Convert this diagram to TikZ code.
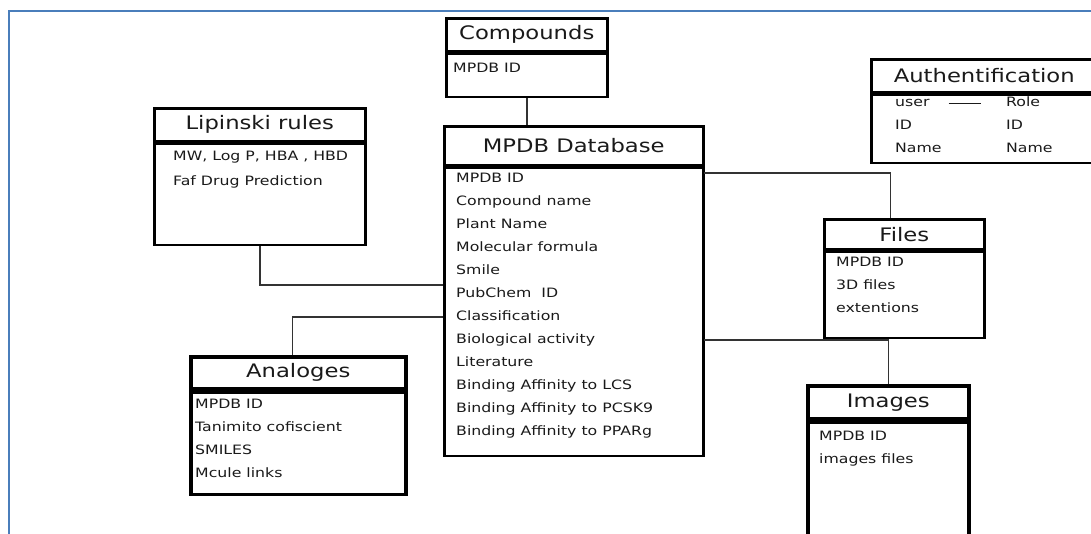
\documentclass[tikz,border=0pt]{standalone}
\usepackage{fontspec}
\newfontfamily\dbfont[FakeStretch=1.22]{DejaVu Sans}
\usepackage{tikz}
\usetikzlibrary{positioning}
\definecolor{framebl}{HTML}{4A7EBB}
\definecolor{inkgray}{HTML}{1A1A1A}
\definecolor{linkgray}{HTML}{333333}
\tikzset{
  tblhead/.style={draw=black, line width=2.5pt, fill=white, inner sep=0pt,
                  anchor=north west, text=inkgray,
                  font=\dbfont\fontsize{18.6}{21}\selectfont},
  tblbody/.style={draw=black, line width=2.5pt, fill=white, inner sep=0pt},
  rowtxt/.style={inner sep=0pt, anchor=base west, text=inkgray,
                 font=\dbfont\fontsize{12.9}{15}\selectfont},
  link/.style={draw=linkgray, line width=1.5pt},
  frameln/.style={draw=framebl, line width=1.6pt},
}

\begin{document}
\begin{tikzpicture}[x=1pt, y=-1pt]
  \clip (0,0) rectangle (1091,533);
  \fill[white] (0,0) rectangle (1091,533);
  \draw[frameln] (9,545) |- (1100,11);

  % compounds
  \node[tblhead, minimum width=161pt, minimum height=33pt] (cmpT) at (445,17) {Compounds};
  \node[tblbody, below=0pt of cmpT, minimum width=161pt, minimum height=43pt] (cmpB) {};
  \node[rowtxt] (cmp0) at (453,72.7) {MPDB ID};

  % lipinski rules
  \node[tblhead, minimum width=211pt, minimum height=33pt] (lipT) at (153,107) {Lipinski rules};
  \node[tblbody, below=0pt of lipT, minimum width=211pt, minimum height=101pt] (lipB) {};
  \foreach \txt [count=\i from 0] in {{MW, Log P, HBA , HBD}, Faf Drug Prediction}
    \node[rowtxt] (lip\i) at (173,{160+25*\i}) {\txt};

  % main table
  \node[tblhead, minimum width=259pt, minimum height=39pt] (dbT) at (443,125) {MPDB Database};
  \node[tblbody, below=0pt of dbT, minimum width=259pt, minimum height=288pt] (dbB) {};
  \foreach \txt [count=\i from 0] in {MPDB ID, Compound name, Plant Name,
      Molecular formula, Smile, PubChem\ \ ID, Classification, Biological activity,
      Literature, Binding Affinity to LCS, Binding Affinity to PCSK9,
      Binding Affinity to PPARg}
    \node[rowtxt] (db\i) at (456,{182.7+23*\i}) {\txt};

  % authentification
  \node[tblhead, minimum width=226pt, minimum height=33pt] (autT) at (870,58) {Authentification};
  \node[tblbody, below=0pt of autT, minimum width=226pt, minimum height=68pt] (autB) {};
  \foreach \txt [count=\i from 0] in {user, ID, Name}
    \node[rowtxt] (au\i) at (895,{106.7+23*\i}) {\txt};
  \foreach \txt [count=\i from 0] in {Role, ID, Name}
    \node[rowtxt] (ar\i) at (1006,{106.7+23*\i}) {\txt};
  \draw[draw=inkgray, line width=1.2pt, shorten <=19pt] (au0.east) -- ([xshift=-25pt]au0.east -| ar0.west);

  % files
  \node[tblhead, minimum width=160pt, minimum height=30pt] (filT) at (823,218) {Files};
  \node[tblbody, below=0pt of filT, minimum width=160pt, minimum height=86pt] (filB) {};
  \foreach \txt [count=\i from 0] in {MPDB ID, 3D files, extentions}
    \node[rowtxt] (fil\i) at (836,{266.7+23*\i}) {\txt};

  % analoges
  \node[tblhead, line width=3.5pt, minimum width=215pt, minimum height=32pt] (anaT) at (189,355) {Analoges};
  \node[tblbody, line width=3.5pt, below=0pt of anaT, minimum width=215pt, minimum height=102pt] (anaB) {};
  \foreach \txt [count=\i from 0] in {MPDB ID, Tanimito cofiscient, SMILES, Mcule links}
    \node[rowtxt] (ana\i) at (195,{408.7+23*\i}) {\txt};

  % images
  \node[tblhead, line width=3.5pt, minimum width=161pt, minimum height=33pt] (imgT) at (806,384) {Images};
  \node[tblbody, line width=3.5pt, below=0pt of imgT, minimum width=161pt, minimum height=150pt] (imgB) {};
  \foreach \txt [count=\i from 0] in {MPDB ID, images files}
    \node[rowtxt] (img\i) at (819,{440.7+23*\i}) {\txt};

  % links
  \coordinate (dbL1) at (443,285);
  \coordinate (dbL2) at (443,317);
  \coordinate (dbR1) at (704,173);
  \coordinate (dbR2) at (704,340);
  \draw[link] (cmpB.south) -- (cmpB.south |- dbT.north);
  \draw[link] (lipB.south) |- (dbL1);
  \draw[link] ([xshift=-6pt]anaT.north) |- (dbL2);
  \draw[link] (dbR1) -| ([xshift=-14pt]filT.north);
  \draw[link] (dbR2) -| (imgT.north);
\end{tikzpicture}
\end{document}
